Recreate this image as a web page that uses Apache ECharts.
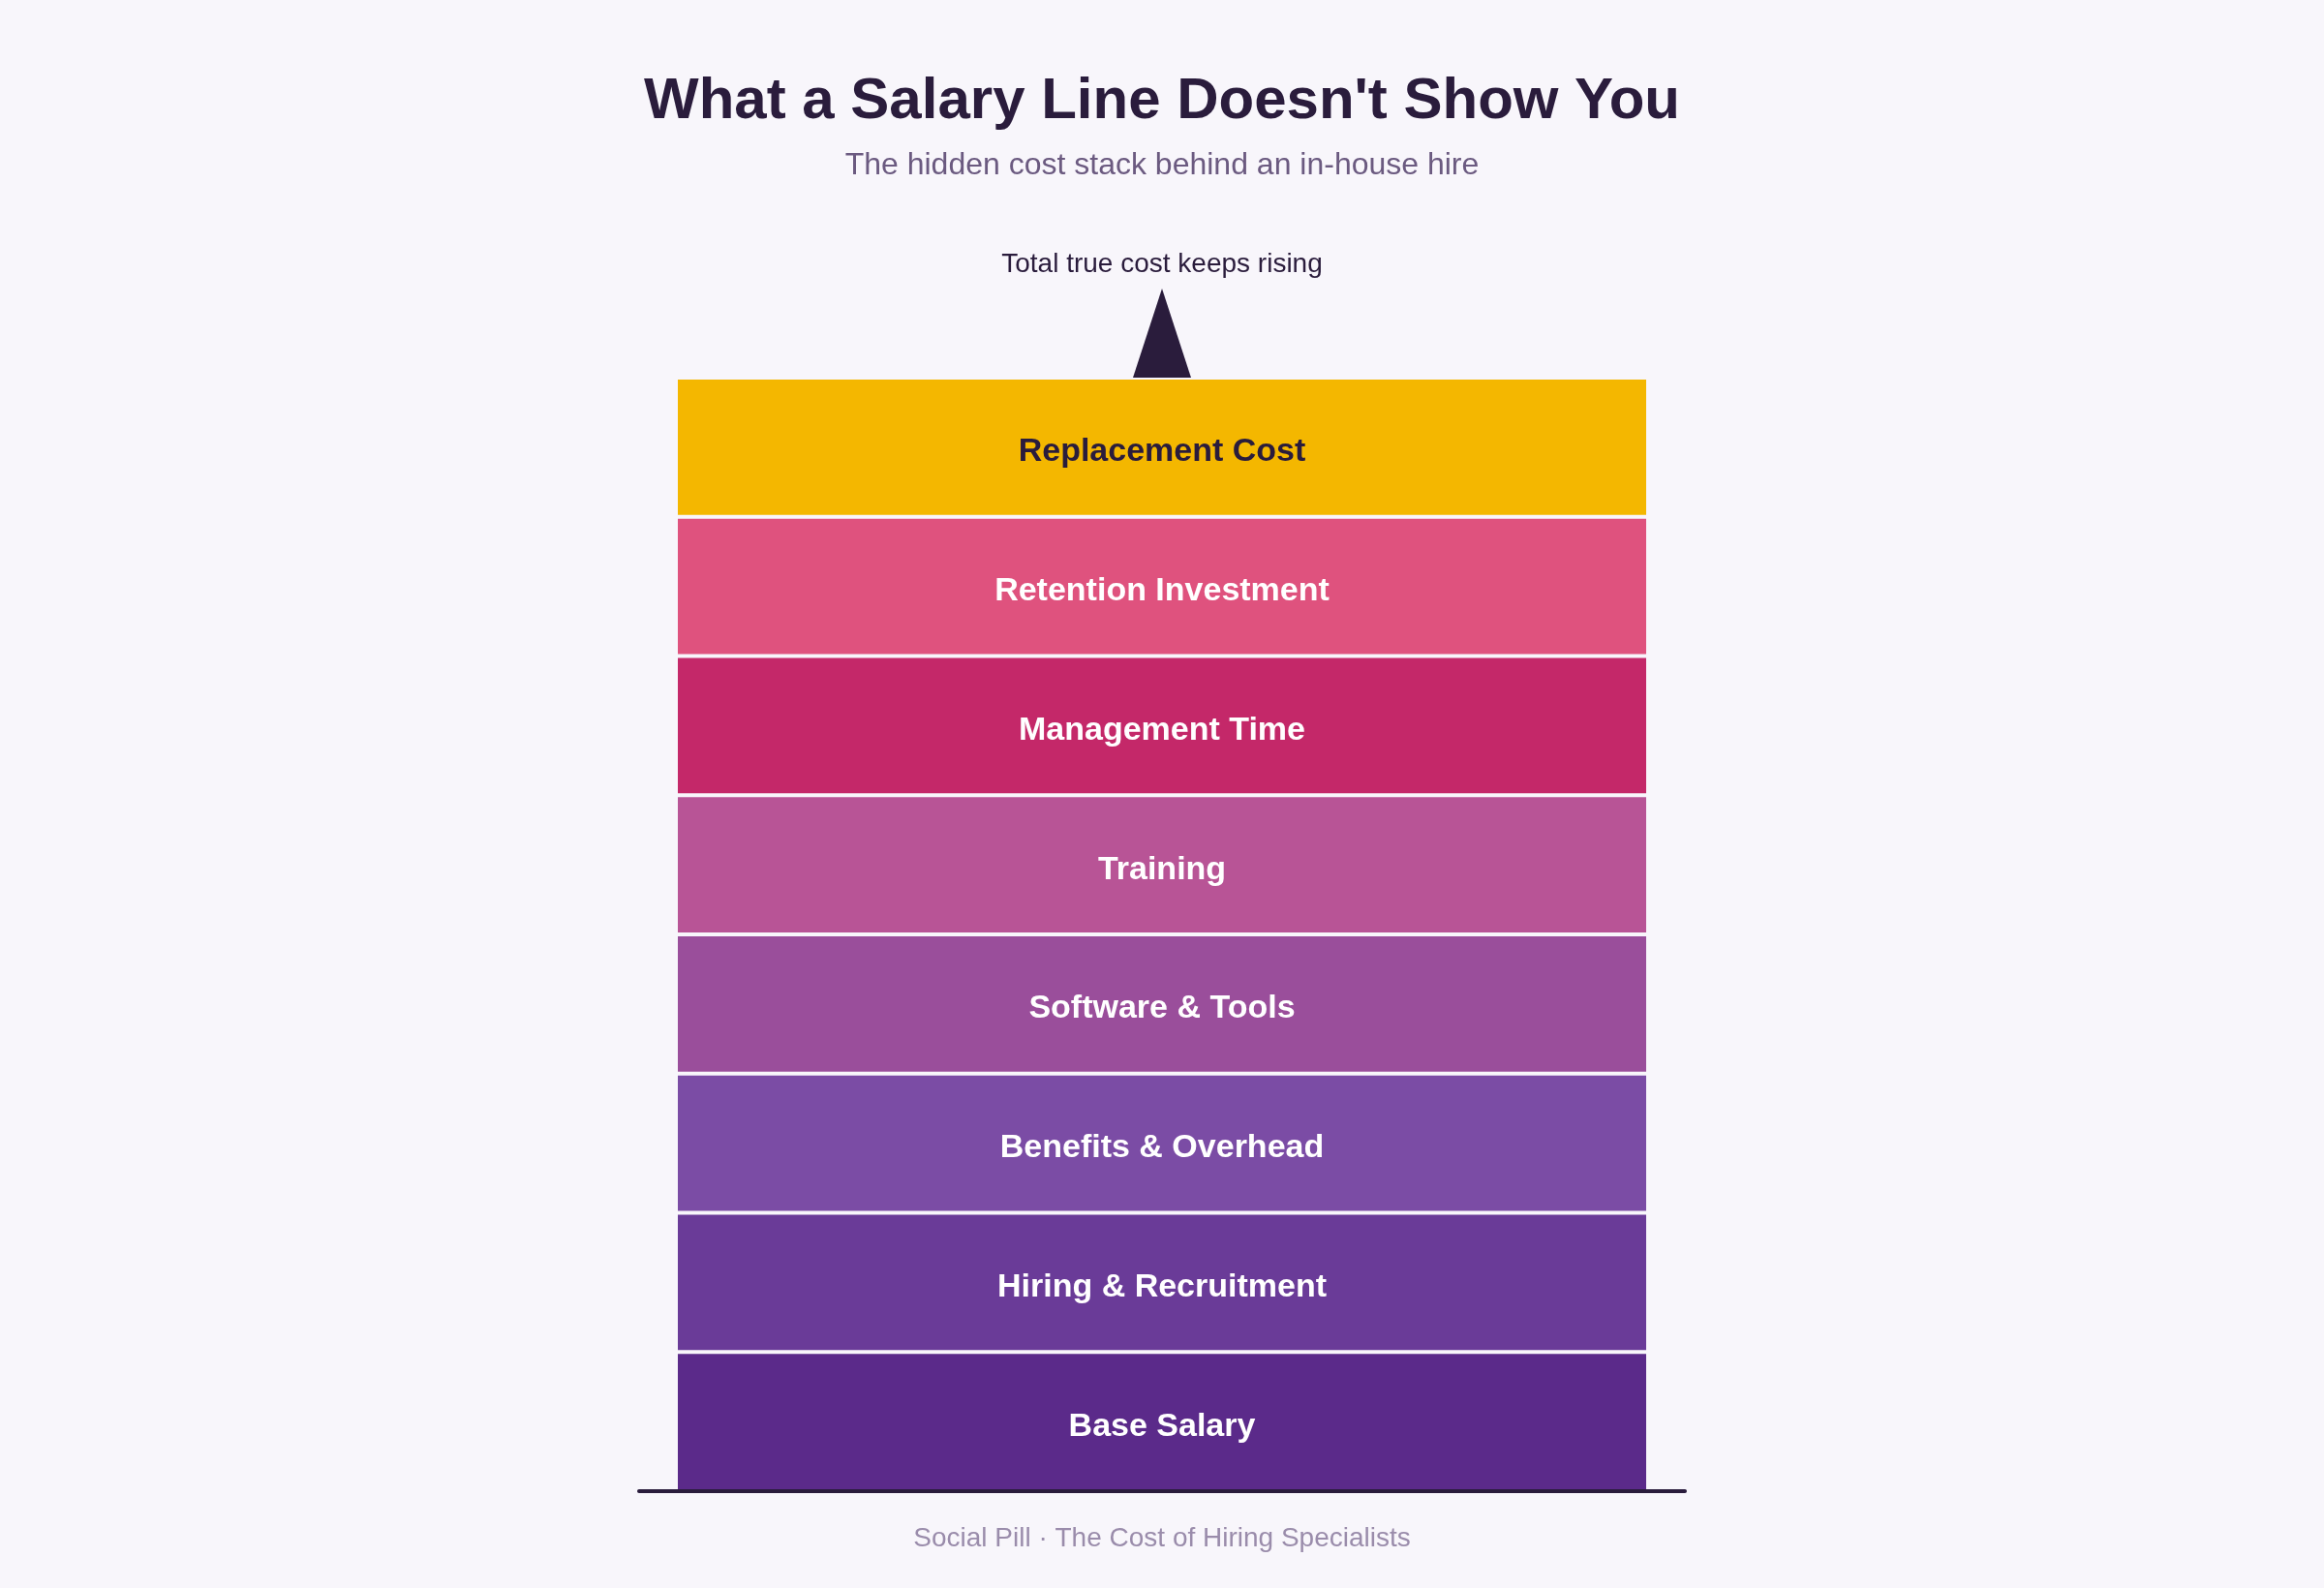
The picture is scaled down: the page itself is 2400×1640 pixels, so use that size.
<!DOCTYPE html>
<html>
<head>
<meta charset="utf-8">
<script src="https://cdn.jsdelivr.net/npm/echarts@6/dist/echarts.min.js"></script>
<style>
  html, body { margin: 0; padding: 0; background: #f8f6fb; }
  #chart { width: 2400px; height: 1640px; }
</style>
</head>
<body>
<div id="chart"></div>
<script>
// cost layers, bottom of the stack first
const LAYERS = ["Base Salary", "Hiring & Recruitment", "Benefits & Overhead", "Software & Tools",
    "Training", "Management Time", "Retention Investment", "Replacement Cost"];
const LAYER_VALUES = [1, 1, 1, 1, 1, 1, 1, 1];
const LAYER_COLORS = ["#5b2a8a", "#6a3b98", "#7b4ca5", "#9a4e9b", "#b85496", "#c42869", "#df527e", "#f4b700"];
const CATEGORY = ["In-house hire"];

const BG = '#f8f6fb';
const INK = '#2a1c3c';
const FONT = '"Liberation Sans", Arial, sans-serif';

const chart = echarts.init(document.getElementById('chart'));

const series = LAYERS.map((name, i) => {
    const s = {
        name: name,
        type: 'bar',
        stack: 'cost',
        barWidth: 1004,
        data: [LAYER_VALUES[i]],
        itemStyle: { color: LAYER_COLORS[i], borderColor: BG, borderWidth: 2 },
        label: {
            show: true,
            position: 'inside',
            offset: [0, 5],
            formatter: '{a}',
            fontFamily: FONT,
            fontWeight: 'bold',
            fontSize: 34,
            color: i === LAYERS.length - 1 ? INK : '#ffffff'
        },
        emphasis: { disabled: true }
    };
    if (i === LAYERS.length - 1) {
        // arrow on top of the stack
        const total = LAYER_VALUES.reduce((a, b) => a + b, 0);
        s.markPoint = {
            symbol: 'triangle',
            symbolSize: [60, 92],
            symbolOffset: [0, '-50%'],
            itemStyle: { color: INK },
            label: {
                show: true,
                position: 'top',
                distance: 11,
                formatter: 'Total true cost keeps rising',
                fontFamily: FONT,
                fontSize: 28,
                color: INK
            },
            data: [{ coord: [0, total] }]
        };
    }
    return s;
});

chart.setOption({
    backgroundColor: BG,
    animation: false,
    title: [
        {
            text: "What a Salary Line Doesn't Show You",
            left: 'center', top: 75, padding: 0,
            textStyle: { fontFamily: FONT, fontSize: 60, fontWeight: 'bold', color: INK }
        },
        {
            text: 'The hidden cost stack behind an in-house hire',
            left: 'center', top: 155, padding: 0,
            textStyle: { fontFamily: FONT, fontSize: 32, fontWeight: 'normal', color: '#6b5a80' }
        },
        {
            text: 'Social Pill · The Cost of Hiring Specialists',
            left: 'center', top: 1575, padding: 0,
            textStyle: { fontFamily: FONT, fontSize: 28, fontWeight: 'normal', color: '#9a8cab' }
        }
    ],
    grid: { left: 660, right: 660, top: 390, bottom: 100 },
    xAxis: {
        type: 'category',
        data: CATEGORY,
        z: 10,
        axisLine: { lineStyle: { color: INK, width: 4 } },
        axisTick: { show: false },
        axisLabel: { show: false }
    },
    yAxis: {
        type: 'value',
        min: 0,
        max: 8,
        show: false
    },
    series: series
});
</script>
</body>
</html>
